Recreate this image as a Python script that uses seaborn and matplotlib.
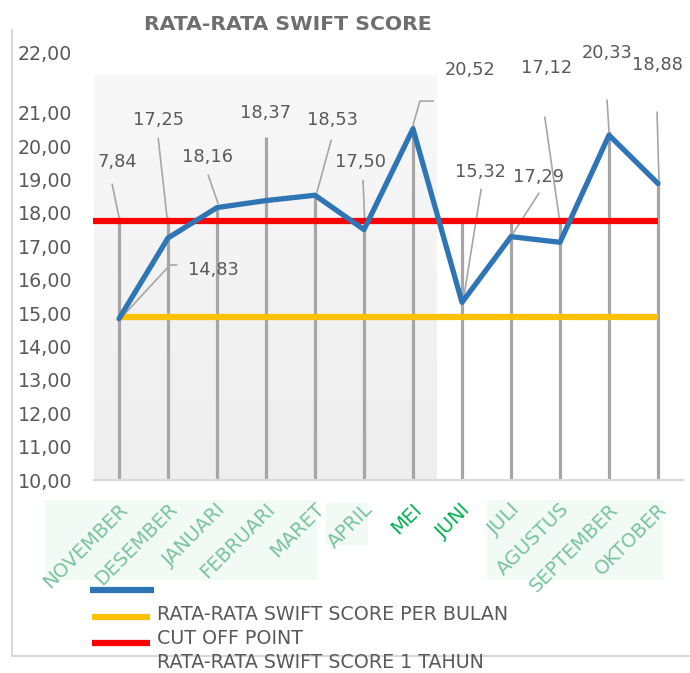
import numpy as np
import pandas as pd
import matplotlib
matplotlib.use("Agg")
import matplotlib.pyplot as plt
import seaborn as sns
from matplotlib.lines import Line2D
from matplotlib.patches import Rectangle
from matplotlib.colors import LinearSegmentedColormap
import matplotlib.transforms as mtransforms

# ---------------- data ----------------
months = ["NOVEMBER", "DESEMBER", "JANUARI", "FEBRUARI", "MARET", "APRIL",
          "MEI", "JUNI", "JULI", "AGUSTUS", "SEPTEMBER", "OKTOBER"]
scores = [14.83, 17.25, 18.16, 18.37, 18.53, 17.50, 20.52, 15.32, 17.29, 17.12, 20.33, 18.88]
value_labels = ["7,84", "17,25", "18,16", "18,37", "18,53", "17,50",
                "20,52", "15,32", "17,29", "17,12", "20,33", "18,88"]
extra_label = "14,83"
cutoff_line = 17.75        # red
monthly_avg_line = 14.88   # orange
ytick_values = [10, 11, 12, 13, 14, 15, 16, 17, 18, 19, 20, 21]
ytick_labels = ["10,00", "11,00", "12,00", "13,00", "14,00", "15,00",
                "16,00", "17,00", "18,00", "19,00", "20,00", "21,00"]
top_tick_label = "22,00"
title = "RATA-RATA SWIFT SCORE"
legend_labels = ["", "RATA-RATA SWIFT SCORE PER BULAN", "CUT OFF POINT",
                 "RATA-RATA SWIFT SCORE 1 TAHUN"]

# ---------------- layout (annotation placement) ----------------
label_x = [-0.04, 0.80, 1.80, 3.0, 4.35, 4.92, 7.16, 7.37, 8.57, 8.73, 9.96, 10.98]
label_y = [19.52, 20.78, 19.67, 20.99, 20.78, 19.52, 22.28, 19.22, 19.07, 22.34, 22.78, 22.43]
drop_top = [17.87, 17.87, 18.23, 20.27, 18.59, 17.57, 20.63, 17.69, 17.69, 17.69, 20.45, 18.98]
leaders = [
    [(0, 17.87), (-0.14, 18.86)],
    [(0.98, 17.87), (0.80, 20.24)],
    [(2.02, 18.29), (1.82, 19.13)],
    [],
    [(4.04, 18.62), (4.33, 20.18)],
    [(5.02, 17.57), (4.98, 18.98)],
    [(6.0, 20.63), (6.14, 21.35), (6.41, 21.35)],
    [(7.02, 15.33), (7.39, 18.71)],
    [(8.02, 17.34), (8.57, 18.59)],
    [(9.0, 17.69), (8.69, 20.87)],
    [(10.0, 20.45), (9.96, 21.38)],
    [(11.02, 18.98), (10.98, 21.02)],
]
extra_leader = [(0.02, 14.82), (1.04, 16.44), (1.18, 16.44)]
extra_pos = (1.92, 16.29)

BLUE = "#2e75b6"
RED = "#ff0000"
ORANGE = "#ffc000"
GRAY_TXT = "#595959"
DROP = "#a6a6a6"

sns.set_theme(style="white")
plt.rcParams["font.family"] = ["DejaVu Sans"]

W, H = 690, 673
fig = plt.figure(figsize=(W / 100, H / 100), dpi=100)
ax = fig.add_axes([94.5 / W, (H - 480) / H, 588 / W, 434 / H])
ax.set_xlim(-0.5, 11.5)
ax.set_ylim(10, 23.0)
ax.set_facecolor("white")

# shaded plot-area region (left part)
grad = np.linspace(0, 1, 256).reshape(-1, 1)
cm = LinearSegmentedColormap.from_list("g", ["#eeeeee", "#f8f8f8"])
ax.imshow(grad, extent=[-0.5, 6.49, 10, 22.13], origin="lower", cmap=cm,
          aspect="auto", zorder=0)

x = np.arange(len(months))
# drop lines
ax.vlines(x, 10, drop_top, color=DROP, lw=2.3, zorder=2)
for pts in leaders:
    if pts:
        xs, ys = zip(*pts)
        ax.plot(xs, ys, color=DROP, lw=1.2, zorder=2)
xs, ys = zip(*extra_leader)
ax.plot(xs, ys, color=DROP, lw=1.2, zorder=2)

# reference lines
ax.hlines(monthly_avg_line, 0, 11, color=ORANGE, lw=4.5, zorder=3)
ax.hlines(cutoff_line, -0.53, 11, color=RED, lw=4.5, zorder=3, clip_on=False)

# main series
df = pd.DataFrame({"x": x, "score": scores})
sns.lineplot(data=df, x="x", y="score", ax=ax, color=BLUE, lw=3.8, zorder=4,
             legend=False)

# data labels
for lx, ly, t in zip(label_x, label_y, value_labels):
    ax.text(lx, ly, t, ha="center", va="center", fontsize=12.8, color=GRAY_TXT,
            zorder=5)
ax.text(extra_pos[0], extra_pos[1], extra_label, ha="center", va="center",
        fontsize=12.8, color=GRAY_TXT, zorder=5)

# axes styling
for s in ["top", "right", "left"]:
    ax.spines[s].set_visible(False)
ax.spines["bottom"].set_color("#d9d9d9")
ax.spines["bottom"].set_linewidth(1.5)
ax.set_yticks(ytick_values + [22.8])
ax.set_yticklabels(ytick_labels + [top_tick_label])
ax.tick_params(axis="y", length=0, pad=16, labelsize=13.7, labelcolor=GRAY_TXT)
ax.set_xticks(x)
ax.set_xticklabels(months)
ax.tick_params(axis="x", length=0, pad=19)
ax.set_xlabel("")
ax.set_ylabel("")
ax.grid(False)
offset = mtransforms.ScaledTranslation(6 / 100, 0, fig.dpi_scale_trans)
for i, lab in enumerate(ax.get_xticklabels()):
    lab.set_rotation(45)
    lab.set_rotation_mode("anchor")
    lab.set_ha("right")
    lab.set_va("center")
    lab.set_fontsize(14)
    lab.set_transform(lab.get_transform() + offset)
    if months[i] in ("MEI", "JUNI"):
        lab.set_color("#00b050")
    else:
        lab.set_color("#6cbd93")
        lab.set_alpha(0.9)

# faint background patches behind x labels
for (x0, y0, x1, y1) in [(45, 500, 317, 580), (326, 502, 368, 545), (487, 500, 663, 580)]:
    fig.add_artist(Rectangle((x0 / W, 1 - y1 / H), (x1 - x0) / W, (y1 - y0) / H,
                             transform=fig.transFigure, facecolor="#f1faf5",
                             edgecolor="none", zorder=-1))

# title
fig.text(288 / W, 1 - 25 / H, title, ha="center", va="center", fontsize=14.7,
         fontweight="bold", color="#6f6f6f")

# outer frame lines
fig.add_artist(Line2D([12 / W, 12 / W], [1 - 30 / H, 1 - 656 / H], color="#d9d9d9",
                      lw=1.5, transform=fig.transFigure))
fig.add_artist(Line2D([12 / W, 1.0], [1 - 656 / H, 1 - 656 / H], color="#d9d9d9",
                      lw=1.5, transform=fig.transFigure))

# legend (manual)
leg_items = [(590, BLUE, 90, 154), (617, ORANGE, 92, 150), (643, RED, 92, 150)]
for yy, c, x0, x1 in leg_items:
    fig.add_artist(Line2D([x0 / W, x1 / W], [1 - yy / H, 1 - yy / H], color=c,
                          lw=4.5, transform=fig.transFigure, solid_capstyle="butt"))
for yy, t in zip([614, 639, 662], legend_labels[1:]):
    fig.text(157 / W, 1 - yy / H, t, ha="left", va="center", fontsize=13.7,
             color=GRAY_TXT)

fig.savefig("out.png", dpi=100)
